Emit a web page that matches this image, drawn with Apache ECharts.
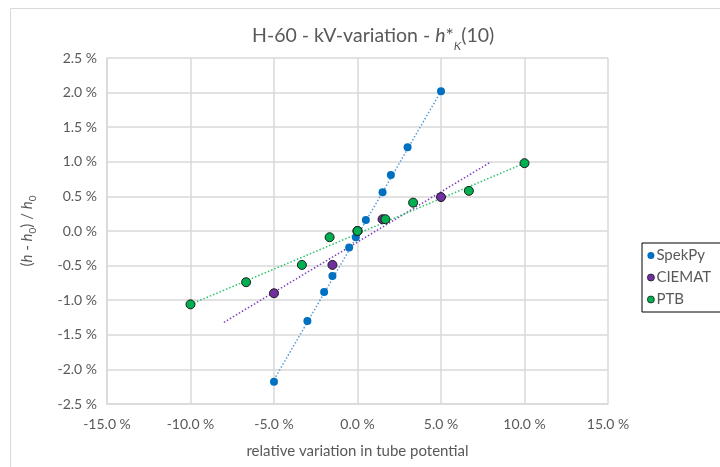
<!DOCTYPE html>
<html><head><meta charset="utf-8">
<script src="https://cdn.jsdelivr.net/npm/echarts@6/dist/echarts.min.js"></script>
<style>html,body{margin:0;padding:0;background:#fff}#c{width:720px;height:467px}</style>
</head><body><div id="c"></div>
<script>
var xTicks = [-15, -10, -5, 0, 5, 10, 15];
var yTicks = [-2.5, -2.0, -1.5, -1.0, -0.5, 0.0, 0.5, 1.0, 1.5, 2.0, 2.5];
var spekX = [-5, -3, -2, -1.5, -0.5, -0.1, 0.5, 1.5, 2, 3, 5];
var spekY = [-2.18, -1.30, -0.88, -0.65, -0.24, -0.09, 0.16, 0.56, 0.81, 1.21, 2.02];
var ciematX = [-5, -1.5, 0, 1.5, 5];
var ciematY = [-0.90, -0.49, 0, 0.17, 0.49];
var ptbX = [-10, -6.67, -3.33, -1.67, 0, 1.67, 3.33, 6.67, 10];
var ptbY = [-1.06, -0.74, -0.49, -0.09, 0, 0.17, 0.41, 0.58, 0.98];
var spekTrendX = [-5, 5], spekTrendY = [-2.15, 2.02];
var ciematTrendX = [-8, 8], ciematTrendY = [-1.32, 1.00];
var ptbTrendX = [-10, 10], ptbTrendY = [-1.06, 0.98];

function pairs(xs, ys){ return xs.map(function(x,i){return [x, ys[i]];}); }
var FONT = 'Lato';
var TXT = '#595959';
var chart = echarts.init(document.getElementById('c'));
chart.setOption({
  animation: false,
  textStyle: {fontFamily: FONT},
  graphic: [{type:'rect', shape:{x:10.5, y:8.5, width:720, height:470}, style:{fill:'none', stroke:'#D9D9D9', lineWidth:1}, silent:true}],
  title: {
    text: '{n|H-60 - kV-variation - }{i|h}{n|*}{s|K}{n|(10)}',
    left: 247, top: 19,
    textStyle: {
      fontWeight: 'normal',
      rich: {
        n: {fontFamily: FONT, fontSize: 19.5, color: TXT, lineHeight: 24, fontWeight: 'normal'},
        i: {fontFamily: FONT, fontSize: 19.5, color: TXT, fontStyle: 'italic', lineHeight: 24, fontWeight: 'normal'},
        s: {fontFamily: FONT, fontSize: 12, color: TXT, fontStyle: 'italic', lineHeight: 13, verticalAlign: 'bottom', padding:[0,0,-4,0], fontWeight: 'normal'}
      }
    }
  },
  grid: {left: 107, right: 112, top: 58, bottom: 63},
  legend: {
    orient: 'vertical', left: 642, top: 243, width: 90,
    itemWidth: 7, itemHeight: 7, itemGap: 7,
    padding: [5, 30, 5, 5],
    borderColor: '#000', borderWidth: 1,
    itemStyle: {borderWidth: 0.8},
    textStyle: {fontFamily: FONT, fontSize: 15, color: TXT, padding:[0,0,0,-3]},
    data: ['SpekPy', 'CIEMAT', 'PTB']
  },
  xAxis: {
    type: 'value', min: -15, max: 15, interval: 5,
    name: 'relative variation in tube potential',
    nameLocation: 'middle', nameGap: 40,
    nameTextStyle: {fontFamily: FONT, fontSize: 15, color: TXT},
    axisLine: {show: true, onZero: false, lineStyle: {color: '#D9D9D9', width: 1.5}},
    axisTick: {show: false},
    axisLabel: {fontFamily: FONT, fontSize: 14, color: TXT, margin: 13, formatter: function(v){return v.toFixed(1) + ' %';}},
    splitLine: {show: true, lineStyle: {color: '#D9D9D9', width: 1.5}}
  },
  yAxis: {
    type: 'value', min: -2.5, max: 2.5, interval: 0.5,
    name: '({i|h} - {i|h}{s|0}) / {i|h}{s|0}',
    nameLocation: 'middle', nameGap: 72, nameRotate: 90,
    nameTextStyle: {
      rich: {
        i: {fontFamily: FONT, fontSize: 15, color: TXT, fontStyle: 'italic'},
        s: {fontFamily: FONT, fontSize: 10, color: TXT, verticalAlign: 'bottom', padding:[0,0,-3,0]}
      },
      fontFamily: FONT, fontSize: 15, color: TXT
    },
    axisLine: {show: true, onZero: false, lineStyle: {color: '#D9D9D9', width: 1.5}},
    axisTick: {show: false},
    axisLabel: {fontFamily: FONT, fontSize: 14, color: TXT, margin: 10, formatter: function(v){return v.toFixed(1) + ' %';}},
    splitLine: {show: true, lineStyle: {color: '#D9D9D9', width: 1.5}}
  },
  series: [
    {name: 'spekTrend', type: 'line', data: pairs(spekTrendX, spekTrendY), showSymbol: false, symbol: 'none', silent: true,
     lineStyle: {color: '#5B9BD5', width: 1.5, type: [1.5, 2]}, z: 1},
    {name: 'ciematTrend', type: 'line', data: pairs(ciematTrendX, ciematTrendY), showSymbol: false, symbol: 'none', silent: true,
     lineStyle: {color: '#7F3FBF', width: 1.5, type: [1.5, 2]}, z: 1},
    {name: 'ptbTrend', type: 'line', data: pairs(ptbTrendX, ptbTrendY), showSymbol: false, symbol: 'none', silent: true,
     lineStyle: {color: '#2CC46A', width: 1.5, type: [1.5, 2]}, z: 1},
    {name: 'SpekPy', type: 'scatter', data: pairs(spekX, spekY), symbol: 'circle', symbolSize: 8,
     itemStyle: {color: '#0070C0', opacity: 1}, z: 3},
    {name: 'CIEMAT', type: 'scatter', data: pairs(ciematX, ciematY), symbol: 'circle', symbolSize: 9,
     itemStyle: {color: '#7030A0', borderColor: '#1a1a1a', borderWidth: 1, opacity: 1}, z: 3},
    {name: 'PTB', type: 'scatter', data: pairs(ptbX, ptbY), symbol: 'circle', symbolSize: 9,
     itemStyle: {color: '#00B050', borderColor: '#1a1a1a', borderWidth: 1, opacity: 1}, z: 3}
  ]
});
</script></body></html>
